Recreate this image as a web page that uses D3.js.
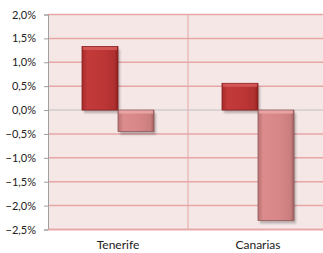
<!DOCTYPE html>
<html>
<head>
  <meta charset="utf-8">
  <style>
    body { margin: 0; background: #fff; }
    text { font-family: Lato, "Open Sans", sans-serif; fill: #222; }
  </style>
  <script src="https://cdn.jsdelivr.net/npm/d3@7"></script>
</head>
<body>
<script>
// data
var categories = ["Tenerife", "Canarias"];
var series = ["s1", "s2"];
var values_s1 = [1.33, 0.56];
var values_s2 = [-0.45, -2.31];
var yTicks = [2.0, 1.5, 1.0, 0.5, 0.0, -0.5, -1.0, -1.5, -2.0, -2.5];

var width = 323, height = 253;
var plotLeft = 48, plotRight = 328, plotTop = 14.5, plotBottom = 229.5;

var svg = d3.select("body").append("svg")
  .attr("width", width)
  .attr("height", height);

var defs = svg.append("defs");
function grad(id, stops) {
  var g = defs.append("linearGradient").attr("id", id)
    .attr("x1", "0").attr("x2", "1").attr("y1", "0").attr("y2", "0");
  stops.forEach(function (s) {
    g.append("stop").attr("offset", s[0]).attr("stop-color", s[1]);
  });
}
grad("g1", [[0, "#a52a2a"], [0.15, "#c23a3a"], [0.6, "#bd3636"], [0.9, "#b03030"], [1, "#8e2020"]]);
grad("g2", [[0, "#b97272"], [0.15, "#dc8c8c"], [0.6, "#d68686"], [0.9, "#cb7e7e"], [1, "#9f6060"]]);
defs.append("filter").attr("id", "blur")
  .append("feGaussianBlur").attr("stdDeviation", 1.2);

var x = d3.scaleBand().domain(categories).range([plotLeft, plotRight]);
var xs = d3.scaleBand().domain(series).range([0, x.bandwidth()]).paddingOuter(0.944);
var y = d3.scaleLinear().domain([-2.5, 2.0]).range([plotBottom, plotTop]);

// plot background
svg.append("rect")
  .attr("x", plotLeft).attr("y", y(2.0))
  .attr("width", plotRight - plotLeft).attr("height", y(-2.5) - y(2.0))
  .attr("fill", "#f6e7e7");

// grid lines
svg.selectAll(".grid")
  .data(yTicks.filter(function (d) { return d !== 0; }))
  .enter().append("line")
  .attr("x1", plotLeft).attr("x2", plotRight)
  .attr("y1", function (d) { return y(d); })
  .attr("y2", function (d) { return y(d); })
  .attr("stroke", "#e6a6a6").attr("stroke-width", 1.5);

// category divider
svg.append("line")
  .attr("x1", x("Canarias")).attr("x2", x("Canarias"))
  .attr("y1", y(2.0)).attr("y2", y(-2.5))
  .attr("stroke", "#e6a6a6").attr("stroke-width", 1);

// zero line
svg.append("line")
  .attr("x1", plotLeft).attr("x2", plotRight)
  .attr("y1", y(0)).attr("y2", y(0))
  .attr("stroke", "#c0c0c0").attr("stroke-width", 1);

// bars
var rows = [];
categories.forEach(function (c, i) {
  rows.push({cat: c, ser: "s1", v: values_s1[i]});
  rows.push({cat: c, ser: "s2", v: values_s2[i]});
});

function bx(d) { return x(d.cat) + xs(d.ser); }
function by(d) { return Math.min(y(0), y(d.v)); }
function bh(d) { return Math.abs(y(d.v) - y(0)); }

// shadows
svg.selectAll(".shadow").data(rows).enter().append("rect")
  .attr("x", function (d) { return bx(d) + 2; })
  .attr("y", function (d) { return by(d) + 3; })
  .attr("width", xs.bandwidth())
  .attr("height", bh)
  .attr("fill", "#000").attr("opacity", 0.25)
  .attr("filter", "url(#blur)");

svg.selectAll(".bar").data(rows).enter().append("rect")
  .attr("x", bx).attr("y", by)
  .attr("width", xs.bandwidth()).attr("height", bh)
  .attr("fill", function (d) { return d.ser === "s1" ? "url(#g1)" : "url(#g2)"; })
  .attr("stroke", function (d) { return d.ser === "s1" ? "#8a2020" : "#8f5a5a"; })
  .attr("stroke-width", 0.8);

// top bevel highlight
svg.selectAll(".bevel").data(rows).enter().append("rect")
  .attr("x", function (d) { return bx(d) + 1; })
  .attr("y", function (d) { return by(d) + 0.5; })
  .attr("width", xs.bandwidth() - 2).attr("height", 3)
  .attr("fill", function (d) { return d.ser === "s1" ? "#d65a5a" : "#eaa6a6"; })
  .attr("opacity", 0.9);

// y axis
var yAxis = d3.axisLeft(y).tickValues(yTicks).tickSize(4).tickPadding(8)
  .tickFormat(function (d) { return d3.format(".1f")(d).replace(".", ",") + "%"; });
var ya = svg.append("g").attr("transform", "translate(" + plotLeft + ",0)").call(yAxis);
ya.select(".domain").attr("stroke", "#a0a0a0");
ya.selectAll(".tick line").attr("stroke", "#a0a0a0");
ya.selectAll("text").style("font-size", "11px").attr("fill", "#222");

// bottom border
svg.append("line")
  .attr("x1", plotLeft).attr("x2", plotRight)
  .attr("y1", y(-2.5)).attr("y2", y(-2.5))
  .attr("stroke", "#e6a6a6").attr("stroke-width", 1.5);

// x labels
svg.selectAll(".xlab").data(categories).enter().append("text")
  .attr("x", function (d) { return x(d) + x.bandwidth() / 2; })
  .attr("y", 249)
  .attr("text-anchor", "middle")
  .style("font-size", "12px")
  .text(function (d) { return d; });
</script>
</body>
</html>
